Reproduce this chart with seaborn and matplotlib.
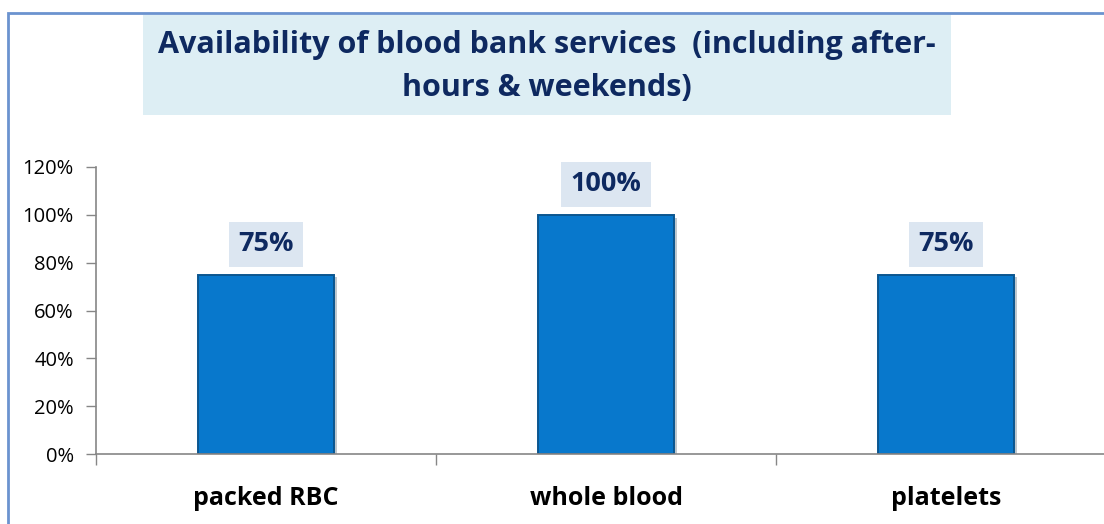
import matplotlib
matplotlib.use("Agg")
import matplotlib.pyplot as plt
import matplotlib.patheffects as pe
from matplotlib.patches import Rectangle
from matplotlib.ticker import PercentFormatter, FixedLocator
import seaborn as sns
import pandas as pd

categories = ["packed RBC", "whole blood", "platelets"]
availability = [0.75, 1.00, 0.75]
y_ticks = [0.0, 0.2, 0.4, 0.6, 0.8, 1.0, 1.2]
title_lines = ["Availability of blood bank services  (including after-",
               "hours & weekends)"]

sns.set_theme(style="white")
plt.rcParams["font.family"] = ["Open Sans", "DejaVu Sans"]

W, H = 1104, 524
fig = plt.figure(figsize=(W / 100, H / 100), dpi=100)
fig.patch.set_facecolor("white")

# outer chart-area frame (continues past the bottom and right edges)
fig.patches.append(Rectangle((8 / W, -0.5), 2, 1.5 - 13 / H, transform=fig.transFigure,
                             fill=False, edgecolor="#6B93CF", linewidth=2, zorder=0))

# title banner
fig.patches.append(Rectangle((143 / W, 1 - 115 / H), (951 - 143) / W, 100 / H,
                             transform=fig.transFigure, facecolor="#DDEEF4",
                             edgecolor="none", zorder=1))
fig.text(547 / W, 1 - 45 / H, title_lines[0], ha="center", va="center",
         fontsize=22, fontweight="bold", color="#0E2960")
fig.text(547 / W, 1 - 88 / H, title_lines[1], ha="center", va="center",
         fontsize=22, fontweight="bold", color="#0E2960")

# plot area: x axis from 96px, category width 340px, y from 454px (0%) to 167px (120%)
ax = fig.add_axes([96 / W, (H - 454) / H, 1020 / W, (454 - 167) / H])
ax.set_facecolor("none")

df = pd.DataFrame({"category": categories, "value": availability})
sns.barplot(data=df, x="category", y="value", ax=ax, width=0.4,
            color="#0878CC", saturation=1, edgecolor="#0B568F", linewidth=1.4)

for bar in ax.patches:
    bar.set_path_effects([pe.SimplePatchShadow(offset=(2, -2), alpha=0.25), pe.Normal()])

ax.set_xlim(-0.5, 2.5)
ax.set_ylim(0, 1.2)
ax.yaxis.set_major_locator(FixedLocator(y_ticks))
ax.yaxis.set_major_formatter(PercentFormatter(1.0, decimals=0))
ax.tick_params(axis="y", labelsize=14.5, length=7, width=1, color="#868686",
               direction="out", pad=9, left=True, labelcolor="black")

# category labels centred; boundary ticks between categories
ax.tick_params(axis="x", which="major", length=0, pad=23, labelsize=18,
               labelcolor="black")
for lbl in ax.get_xticklabels():
    lbl.set_fontweight("bold")
ax.set_xticks([-0.5, 0.5, 1.5, 2.5], minor=True)
ax.tick_params(axis="x", which="minor", length=8, width=1, color="#868686",
               direction="out", bottom=True)

ax.set_xlabel("")
ax.set_ylabel("")
for side in ("top", "right"):
    ax.spines[side].set_visible(False)
for side in ("left", "bottom"):
    ax.spines[side].set_color("#868686")
    ax.spines[side].set_linewidth(1.2)

# value labels in shaded boxes
for i, v in enumerate(availability):
    ax.annotate(f"{v:.0%}", xy=(i, v), xytext=(0, 22), textcoords="offset points",
                ha="center", va="center", fontsize=19.5, fontweight="bold",
                color="#0E2960",
                bbox=dict(boxstyle="square,pad=0.35", facecolor="#DCE6F1",
                          edgecolor="none"))

fig.savefig("out.png", dpi=100)
